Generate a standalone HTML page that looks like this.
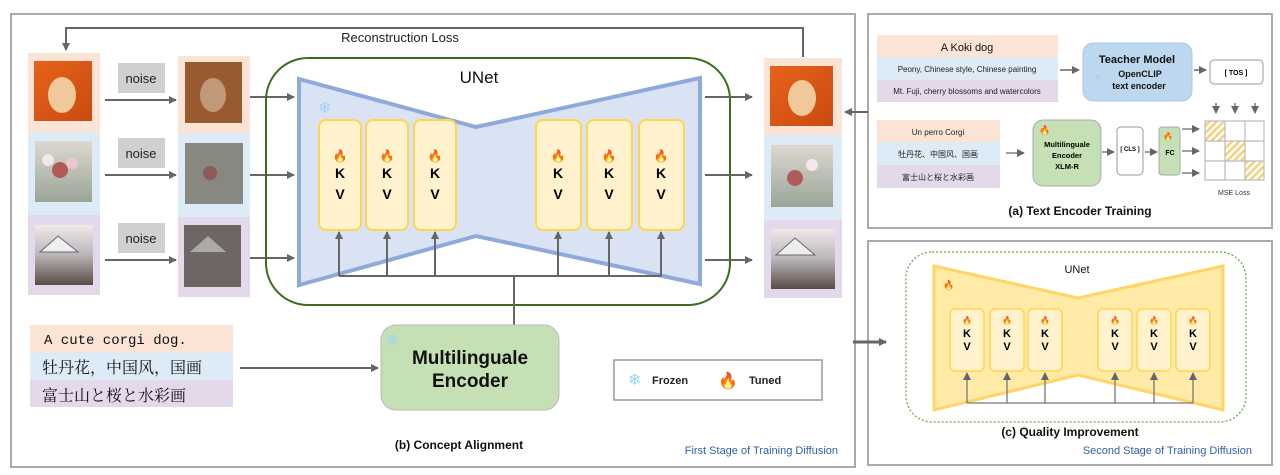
<!DOCTYPE html>
<html><head><meta charset="utf-8"><style>
body{margin:0;background:#fff;width:1280px;height:475px;overflow:hidden}
svg{display:block}
text{font-family:"Liberation Sans","Noto Sans CJK SC",sans-serif}
</style></head><body>
<svg width="1280" height="475" viewBox="0 0 1280 475" xmlns="http://www.w3.org/2000/svg">
<defs>
<marker id="ar" markerWidth="8" markerHeight="8" refX="7" refY="4" orient="auto" markerUnits="userSpaceOnUse"><path d="M0,0 L8,4 L0,8 z" fill="#666"/></marker>
<pattern id="hatch" width="5" height="5" patternUnits="userSpaceOnUse" patternTransform="rotate(45)"><rect width="5" height="5" fill="#fff"/><rect width="2.5" height="5" fill="#f5d27a"/></pattern>
<linearGradient id="dog" x1="0" y1="0" x2="1" y2="1"><stop offset="0" stop-color="#e8631a"/><stop offset="1" stop-color="#c94a10"/></linearGradient>
<linearGradient id="flw" x1="0" y1="0" x2="0" y2="1"><stop offset="0" stop-color="#ddd8d0"/><stop offset="1" stop-color="#9aa597"/></linearGradient>
<linearGradient id="fuji" x1="0" y1="0" x2="0" y2="1"><stop offset="0" stop-color="#f0e8e8"/><stop offset="0.5" stop-color="#b9b6b9"/><stop offset="1" stop-color="#5a4a44"/></linearGradient>
</defs>
<rect x="11" y="14" width="844" height="453" fill="none" stroke="#aaa" stroke-width="2"/>
<rect x="868" y="14" width="404" height="214" fill="none" stroke="#aaa" stroke-width="2"/>
<rect x="868" y="241" width="404" height="224" fill="none" stroke="#aaa" stroke-width="2"/>

<polyline points="803,57 803,28 66,28 66,50" fill="none" stroke="#666" stroke-width="2" marker-end="url(#ar)"/>
<text x="400" y="42" font-size="13" text-anchor="middle" fill="#222">Reconstruction Loss</text>

<rect x="28" y="53" width="72" height="79" fill="#fbe4d6"/>
<rect x="28" y="132" width="72" height="83" fill="#ddebf7"/>
<rect x="28" y="215" width="72" height="80" fill="#e4d9ea"/>
<rect x="34" y="61" width="58" height="60" fill="url(#dog)"/>
<ellipse cx="62" cy="95" rx="14" ry="18" fill="#f1c89a"/>
<rect x="35" y="141" width="57" height="61" fill="url(#flw)"/>
<circle cx="60" cy="170" r="8" fill="#b05a5a"/><circle cx="48" cy="160" r="6" fill="#f4e8ea"/><circle cx="72" cy="163" r="6" fill="#e8c8cc"/>
<rect x="35" y="225" width="58" height="60" fill="url(#fuji)"/>
<path d="M40,252 L58,236 L78,252 z" fill="#eee" stroke="#667" stroke-width="1"/>

<rect x="118" y="63" width="47" height="30" fill="#d0d0d0"/><text x="141" y="83" font-size="13" text-anchor="middle" fill="#222">noise</text>
<rect x="118" y="138" width="47" height="30" fill="#d0d0d0"/><text x="141" y="158" font-size="13" text-anchor="middle" fill="#222">noise</text>
<rect x="118" y="223" width="47" height="30" fill="#d0d0d0"/><text x="141" y="243" font-size="13" text-anchor="middle" fill="#222">noise</text>
<line x1="105" y1="100" x2="176" y2="100" stroke="#666" stroke-width="2" marker-end="url(#ar)"/>
<line x1="105" y1="175" x2="176" y2="175" stroke="#666" stroke-width="2" marker-end="url(#ar)"/>
<line x1="105" y1="260" x2="176" y2="260" stroke="#666" stroke-width="2" marker-end="url(#ar)"/>

<rect x="178" y="56" width="72" height="77" fill="#fbe4d6"/>
<rect x="178" y="133" width="72" height="84" fill="#ddebf7"/>
<rect x="178" y="217" width="72" height="80" fill="#e4d9ea"/>
<rect x="185" y="62" width="57" height="61" fill="#9a5a30"/>
<ellipse cx="213" cy="95" rx="13" ry="17" fill="#c09a78"/>
<rect x="185" y="143" width="58" height="61" fill="#888880"/>
<circle cx="210" cy="173" r="7" fill="#8c5a58"/>
<rect x="184" y="225" width="57" height="62" fill="#6e6662"/>
<path d="M190,252 L208,236 L226,252 z" fill="#aaa"/>

<line x1="250" y1="97" x2="294" y2="97" stroke="#666" stroke-width="2" marker-end="url(#ar)"/>
<line x1="250" y1="175" x2="294" y2="175" stroke="#666" stroke-width="2" marker-end="url(#ar)"/>
<line x1="250" y1="258" x2="294" y2="258" stroke="#666" stroke-width="2" marker-end="url(#ar)"/>

<rect x="266" y="58" width="464" height="247" rx="42" fill="none" stroke="#3a6e1e" stroke-width="2"/>
<path d="M299,79 L476,127 L700,78 L700,284 L476,236 L299,285 z" fill="#dae3f3" stroke="#8eaadb" stroke-width="4"/>
<text x="479" y="83" font-size="17" text-anchor="middle" fill="#111">UNet</text>
<text x="318" y="113" font-size="16" fill="#9dd3f5">❄</text>
<g font-weight="bold" font-size="14" text-anchor="middle">
<rect x="319" y="120" width="42" height="110" rx="7" fill="#fff2cc" stroke="#ffd54f" stroke-width="2"/>
<rect x="366" y="120" width="42" height="110" rx="7" fill="#fff2cc" stroke="#ffd54f" stroke-width="2"/>
<rect x="414" y="120" width="42" height="110" rx="7" fill="#fff2cc" stroke="#ffd54f" stroke-width="2"/>
<rect x="536" y="120" width="45" height="110" rx="7" fill="#fff2cc" stroke="#ffd54f" stroke-width="2"/>
<rect x="587" y="120" width="45" height="110" rx="7" fill="#fff2cc" stroke="#ffd54f" stroke-width="2"/>
<rect x="639" y="120" width="45" height="110" rx="7" fill="#fff2cc" stroke="#ffd54f" stroke-width="2"/>
<text x="340" y="160" font-size="12">🔥</text><text x="340" y="178">K</text><text x="340" y="199">V</text>
<text x="387" y="160" font-size="12">🔥</text><text x="387" y="178">K</text><text x="387" y="199">V</text>
<text x="435" y="160" font-size="12">🔥</text><text x="435" y="178">K</text><text x="435" y="199">V</text>
<text x="558" y="160" font-size="12">🔥</text><text x="558" y="178">K</text><text x="558" y="199">V</text>
<text x="609" y="160" font-size="12">🔥</text><text x="609" y="178">K</text><text x="609" y="199">V</text>
<text x="661" y="160" font-size="12">🔥</text><text x="661" y="178">K</text><text x="661" y="199">V</text>
</g>
<g stroke="#666" stroke-width="2" fill="none">
<line x1="339" y1="276" x2="661" y2="276"/>
<line x1="514" y1="276" x2="514" y2="325"/>
<line x1="339" y1="276" x2="339" y2="232" marker-end="url(#ar)"/>
<line x1="387" y1="276" x2="387" y2="232" marker-end="url(#ar)"/>
<line x1="435" y1="276" x2="435" y2="232" marker-end="url(#ar)"/>
<line x1="558" y1="276" x2="558" y2="232" marker-end="url(#ar)"/>
<line x1="609" y1="276" x2="609" y2="232" marker-end="url(#ar)"/>
<line x1="661" y1="276" x2="661" y2="232" marker-end="url(#ar)"/>
<line x1="705" y1="97" x2="752" y2="97" marker-end="url(#ar)"/>
<line x1="705" y1="175" x2="752" y2="175" marker-end="url(#ar)"/>
<line x1="705" y1="260" x2="752" y2="260" marker-end="url(#ar)"/>
<line x1="868" y1="112" x2="845" y2="112" marker-end="url(#ar)"/>
<line x1="240" y1="368" x2="378" y2="368" marker-end="url(#ar)"/>
<line x1="853" y1="342" x2="886" y2="342" stroke-width="3" marker-end="url(#ar)"/>
</g>

<rect x="764" y="58" width="78" height="77" fill="#fbe4d6"/>
<rect x="764" y="135" width="78" height="85" fill="#ddebf7"/>
<rect x="764" y="220" width="78" height="78" fill="#e4d9ea"/>
<rect x="770" y="66" width="63" height="60" fill="url(#dog)"/>
<ellipse cx="802" cy="98" rx="14" ry="18" fill="#f1c89a"/>
<rect x="771" y="145" width="62" height="62" fill="url(#flw)"/>
<circle cx="795" cy="178" r="8" fill="#b05a5a"/><circle cx="812" cy="165" r="6" fill="#f4e8ea"/>
<rect x="771" y="229" width="64" height="60" fill="url(#fuji)"/>
<path d="M776,255 L795,238 L815,255 z" fill="#eee" stroke="#667" stroke-width="1"/>

<rect x="30" y="325" width="203" height="27" fill="#fbe4d6"/>
<rect x="30" y="352" width="203" height="28" fill="#ddebf7"/>
<rect x="30" y="380" width="203" height="27" fill="#e4d9ea"/>
<text x="44" y="344" font-size="14" fill="#111" style="font-family:'Liberation Mono',monospace">A cute corgi dog.</text>
<text x="42" y="373" font-size="16" fill="#111" style="font-family:'Liberation Serif','Noto Serif CJK SC',serif">牡丹花，中国风，国画</text>
<text x="42" y="401" font-size="16" fill="#111" style="font-family:'Liberation Serif','Noto Serif CJK SC',serif">富士山と桜と水彩画</text>

<rect x="381" y="325" width="178" height="85" rx="15" fill="#c5e0b4" stroke="#bbb" stroke-width="1"/>
<text x="386" y="345" font-size="15" fill="#9dd3f5">❄</text>
<text x="470" y="364" font-size="19" font-weight="bold" text-anchor="middle" fill="#111">Multilinguale</text>
<text x="470" y="387" font-size="19" font-weight="bold" text-anchor="middle" fill="#111">Encoder</text>

<rect x="614" y="360" width="208" height="40" fill="#fff" stroke="#999" stroke-width="1.5"/>
<text x="628" y="385" font-size="16" fill="#9dd3f5">❄</text>
<text x="652" y="384" font-size="11" font-weight="bold" fill="#222">Frozen</text>
<text x="718" y="386" font-size="16">🔥</text>
<text x="749" y="384" font-size="11" font-weight="bold" fill="#222">Tuned</text>

<text x="459" y="449" font-size="12" font-weight="bold" text-anchor="middle" fill="#111">(b) Concept Alignment</text>
<text x="838" y="454" font-size="11" text-anchor="end" fill="#2f5fad">First Stage  of Training  Diffusion</text>

<rect x="877" y="35" width="181" height="22" fill="#fbe4d6"/>
<rect x="877" y="57" width="181" height="23" fill="#ddebf7"/>
<rect x="877" y="80" width="181" height="22" fill="#e4d9ea"/>
<text x="967" y="51" font-size="11" text-anchor="middle" fill="#111">A Koki dog</text>
<text x="967" y="72" font-size="8" text-anchor="middle" fill="#222">Peony, Chinese style, Chinese painting</text>
<text x="967" y="94" font-size="8" text-anchor="middle" fill="#222">Mt. Fuji, cherry blossoms and watercolors</text>
<line x1="1060" y1="70" x2="1079" y2="70" stroke="#666" stroke-width="1.5" marker-end="url(#ar)"/>
<rect x="1083" y="43" width="109" height="58" rx="10" fill="#bdd7ee" stroke="#aac8e8"/>
<text x="1137" y="63" font-size="11" font-weight="bold" text-anchor="middle" fill="#111">Teacher Model</text>
<text x="1140" y="77" font-size="9" font-weight="bold" text-anchor="middle" fill="#111">OpenCLIP</text>
<text x="1139" y="89" font-size="9" font-weight="bold" text-anchor="middle" fill="#111">text encoder</text>
<text x="1094" y="80" font-size="8" fill="#9dd3f5">❄</text>
<line x1="1194" y1="70" x2="1206" y2="70" stroke="#666" stroke-width="1.5" marker-end="url(#ar)"/>
<rect x="1210" y="60" width="53" height="24" rx="4" fill="#fff" stroke="#999"/>
<text x="1236" y="75" font-size="7" font-weight="bold" text-anchor="middle">[ TOS ]</text>
<g stroke="#666" stroke-width="1.3">
<line x1="1216" y1="103" x2="1216" y2="113" marker-end="url(#ar)"/>
<line x1="1235" y1="103" x2="1235" y2="113" marker-end="url(#ar)"/>
<line x1="1255" y1="103" x2="1255" y2="113" marker-end="url(#ar)"/>
</g>
<rect x="877" y="120" width="123" height="22" fill="#fbe4d6"/>
<rect x="877" y="142" width="123" height="23" fill="#ddebf7"/>
<rect x="877" y="165" width="123" height="23" fill="#e4d9ea"/>
<text x="938" y="135" font-size="8" text-anchor="middle" fill="#222">Un perro Corgi</text>
<text x="938" y="157" font-size="8" text-anchor="middle" fill="#222">牡丹花、中国风、国画</text>
<text x="938" y="180" font-size="8" text-anchor="middle" fill="#222">富士山と桜と水彩画</text>
<line x1="1006" y1="153" x2="1024" y2="153" stroke="#666" stroke-width="1.3" marker-end="url(#ar)"/>
<rect x="1033" y="120" width="68" height="66" rx="10" fill="#c5e0b4" stroke="#aaa"/>
<text x="1039" y="133" font-size="9">🔥</text>
<text x="1067" y="147" font-size="7.5" font-weight="bold" text-anchor="middle">Multilinguale</text>
<text x="1067" y="158" font-size="7.5" font-weight="bold" text-anchor="middle">Encoder</text>
<text x="1067" y="169" font-size="7.5" font-weight="bold" text-anchor="middle">XLM-R</text>
<line x1="1102" y1="152" x2="1114" y2="152" stroke="#666" stroke-width="1.3" marker-end="url(#ar)"/>
<rect x="1117" y="127" width="26" height="48" rx="4" fill="#fff" stroke="#999"/>
<text x="1130" y="151" font-size="6" font-weight="bold" text-anchor="middle">[ CLS ]</text>
<line x1="1145" y1="152" x2="1157" y2="152" stroke="#666" stroke-width="1.3" marker-end="url(#ar)"/>
<rect x="1159" y="127" width="21" height="48" rx="3" fill="#c5e0b4" stroke="#aaa"/>
<text x="1163" y="139" font-size="8">🔥</text>
<text x="1170" y="155" font-size="7" font-weight="bold" text-anchor="middle">FC</text>
<g stroke="#666" stroke-width="1.3">
<line x1="1182" y1="129" x2="1199" y2="129" marker-end="url(#ar)"/>
<line x1="1182" y1="151" x2="1199" y2="151" marker-end="url(#ar)"/>
<line x1="1182" y1="173" x2="1199" y2="173" marker-end="url(#ar)"/>
</g>
<rect x="1205" y="121" width="20" height="20" fill="url(#hatch)"/>
<rect x="1225" y="141" width="20" height="20" fill="url(#hatch)"/>
<rect x="1245" y="161" width="19" height="19" fill="url(#hatch)"/>
<g stroke="#bbb" stroke-width="1.2" fill="none">
<rect x="1205" y="121" width="59" height="59"/>
<line x1="1225" y1="121" x2="1225" y2="180"/><line x1="1245" y1="121" x2="1245" y2="180"/>
<line x1="1205" y1="141" x2="1264" y2="141"/><line x1="1205" y1="161" x2="1264" y2="161"/>
</g>
<text x="1234" y="195" font-size="7" text-anchor="middle" fill="#333">MSE Loss</text>
<text x="1080" y="215" font-size="12" font-weight="bold" text-anchor="middle" fill="#111">(a) Text Encoder Training</text>

<rect x="906" y="252" width="340" height="170" rx="26" fill="none" stroke="#6aa84f" stroke-width="1.3" stroke-dasharray="2,2"/>
<path d="M934,266 L1078,298 L1223,266 L1223,410 L1078,375 L934,410 z" fill="#ffeaa8" stroke="#ffd666" stroke-width="3"/>
<text x="1077" y="273" font-size="11" text-anchor="middle" fill="#111">UNet</text>
<text x="943" y="288" font-size="9">🔥</text>
<g font-weight="bold" font-size="11" text-anchor="middle">
<rect x="950" y="309" width="34" height="62" rx="5" fill="#fff2cc" stroke="#ffd54f" stroke-width="1.5"/>
<rect x="990" y="309" width="34" height="62" rx="5" fill="#fff2cc" stroke="#ffd54f" stroke-width="1.5"/>
<rect x="1028" y="309" width="34" height="62" rx="5" fill="#fff2cc" stroke="#ffd54f" stroke-width="1.5"/>
<rect x="1098" y="309" width="34" height="62" rx="5" fill="#fff2cc" stroke="#ffd54f" stroke-width="1.5"/>
<rect x="1137" y="309" width="34" height="62" rx="5" fill="#fff2cc" stroke="#ffd54f" stroke-width="1.5"/>
<rect x="1176" y="309" width="34" height="62" rx="5" fill="#fff2cc" stroke="#ffd54f" stroke-width="1.5"/>
<text x="967" y="323" font-size="8">🔥</text><text x="967" y="337">K</text><text x="967" y="350">V</text>
<text x="1007" y="323" font-size="8">🔥</text><text x="1007" y="337">K</text><text x="1007" y="350">V</text>
<text x="1045" y="323" font-size="8">🔥</text><text x="1045" y="337">K</text><text x="1045" y="350">V</text>
<text x="1115" y="323" font-size="8">🔥</text><text x="1115" y="337">K</text><text x="1115" y="350">V</text>
<text x="1154" y="323" font-size="8">🔥</text><text x="1154" y="337">K</text><text x="1154" y="350">V</text>
<text x="1193" y="323" font-size="8">🔥</text><text x="1193" y="337">K</text><text x="1193" y="350">V</text>
</g>
<g stroke="#777" stroke-width="1.3">
<line x1="967" y1="403" x2="1193" y2="403"/>
<line x1="967" y1="403" x2="967" y2="373" marker-end="url(#ar)"/>
<line x1="1007" y1="403" x2="1007" y2="373" marker-end="url(#ar)"/>
<line x1="1045" y1="403" x2="1045" y2="373" marker-end="url(#ar)"/>
<line x1="1115" y1="403" x2="1115" y2="373" marker-end="url(#ar)"/>
<line x1="1154" y1="403" x2="1154" y2="373" marker-end="url(#ar)"/>
<line x1="1193" y1="403" x2="1193" y2="373" marker-end="url(#ar)"/>
</g>
<text x="1070" y="436" font-size="12" font-weight="bold" text-anchor="middle" fill="#111">(c) Quality Improvement</text>
<text x="1252" y="454" font-size="11" text-anchor="end" fill="#2f5fad">Second Stage  of Training  Diffusion</text>
</svg>
</body></html>
